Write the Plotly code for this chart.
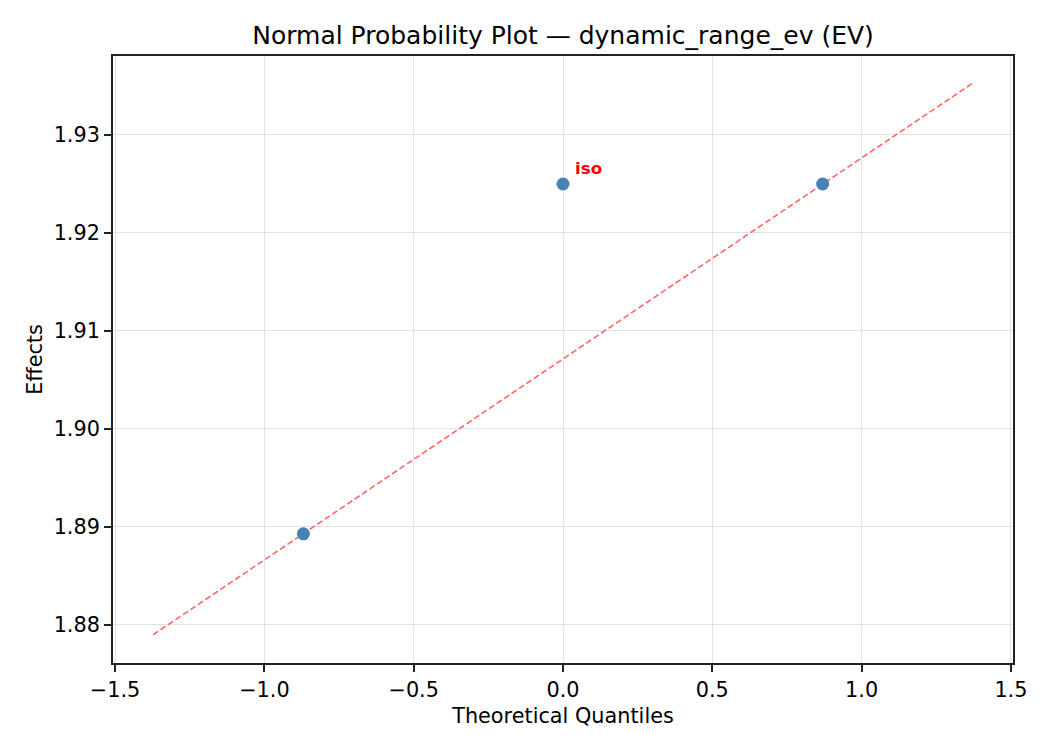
import plotly.graph_objects as go

# normal scores (Blom) and the effect estimates
quantiles = [-0.8694, 0.0, 0.8694]
effects = [1.8893, 1.9250, 1.9250]
labels = ["", "iso", ""]

# reference line through the quartile points
ref_x = [-1.3726, 1.3726]
ref_y = [1.8790, 1.9353]

x_ticks = [-1.5, -1.0, -0.5, 0.0, 0.5, 1.0, 1.5]
y_ticks = [1.88, 1.89, 1.90, 1.91, 1.92, 1.93]

FONT = "DejaVu Sans"

fig = go.Figure()
fig.add_trace(go.Scatter(
    x=ref_x, y=ref_y,
    mode="lines",
    line=dict(color="#ff6666", width=1.6, dash="6px,3px"),
    showlegend=False,
))
fig.add_trace(go.Scatter(
    x=quantiles, y=effects,
    mode="markers",
    marker=dict(color="#4682b4", size=13),
    showlegend=False,
))

for q, e, lab in zip(quantiles, effects, labels):
    if not lab:
        continue
    fig.add_annotation(
        x=q, y=e, text="<b>%s</b>" % lab,
        showarrow=False, xanchor="left", yanchor="middle",
        xshift=10, yshift=16,
        font=dict(family=FONT, size=16.7, color="red"),
    )

axis_style = dict(
    showline=True, linecolor="#222222", linewidth=1.8, mirror=True,
    ticks="outside", ticklen=7, tickwidth=1.5, tickcolor="#222222",
    showgrid=True, gridcolor="#e2e2e2", gridwidth=1.3,
    zeroline=False,
    tickfont=dict(family=FONT, size=20.8, color="black"),
)

fig.update_xaxes(
    range=[-1.507, 1.507], tickvals=x_ticks,
    ticktext=[("%.1f" % v).replace("-", "\u2212") for v in x_ticks],
    title=dict(text="Theoretical Quantiles", standoff=8,
               font=dict(family=FONT, size=20.8, color="black")),
    **axis_style,
)
fig.update_yaxes(
    range=[1.87612, 1.93806], tickvals=y_ticks,
    ticktext=["%.2f" % v for v in y_ticks],
    title=dict(text="Effects", standoff=5,
               font=dict(family=FONT, size=20.8, color="black")),
    **axis_style,
)

# page body adds an 8px offset, so margins are shifted to compensate
fig.update_layout(
    width=1050, height=750,
    margin=dict(l=105, r=45, t=48, b=95),
    paper_bgcolor="white", plot_bgcolor="white",
    title=dict(text="Normal Probability Plot \u2014 dynamic_range_ev (EV)",
               xref="paper", x=0.5, xanchor="center",
               y=0.964, yanchor="middle",
               font=dict(family=FONT, size=25, color="black")),
    font=dict(family=FONT),
)

fig.write_html("out.html")
